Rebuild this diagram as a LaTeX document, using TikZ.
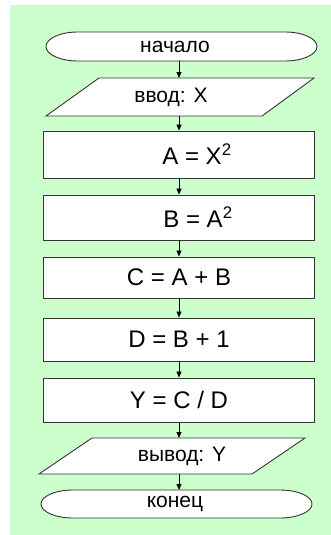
\documentclass[tikz,border=0pt]{standalone}
\usepackage{fontspec}
\setmainfont{Liberation Sans}
\usetikzlibrary{arrows.meta}

\definecolor{bggreen}{RGB}{204,255,204}

\begin{document}
\begin{tikzpicture}[x=1pt, y=-1pt,
    outline/.style={draw=black!80, line width=0.9pt, fill=white},
    opbox/.style={outline, minimum width=271pt, inner sep=0pt, font=\fontsize{24}{28}\selectfont},
    iotext/.style={inner sep=0pt, outer sep=0pt, minimum width=271pt, font=\fontsize{21}{25}\selectfont},
    flow/.style={-{Triangle[length=6pt,width=5pt]}, line width=0.8pt}]
    \useasboundingbox (0, 0) rectangle (331, 535);
    \fill[bggreen] (10, 5) rectangle (331, 535);

    % terminators and input/output
    \draw[outline] (78, 32) -- (285, 32) arc[start angle=-90, end angle=90, x radius=32, y radius=14.5]
      -- (78, 61) arc[start angle=90, end angle=270, x radius=32, y radius=14.5] -- cycle;
    \draw[outline] (46, 116) -- (99, 78) -- (314, 78) -- (262, 116) -- cycle;
    \draw[outline] (39, 474) -- (92, 438) -- (305, 438) -- (252, 474) -- cycle;
    \draw[outline] (73, 490) -- (280, 490) arc[start angle=-90, end angle=90, x radius=32, y radius=14]
      -- (73, 518) arc[start angle=90, end angle=270, x radius=32, y radius=14] -- cycle;

    \node[iotext, minimum height=29pt] (start) at (179, 46.5) {\hspace*{-8pt}начало};
    \node[iotext, minimum height=38pt] (input) at (179, 97) {\hspace*{-16pt}ввод: X};
    \node[opbox, minimum height=47pt] (stepa) at (179, 154.5) {\hspace*{36pt}A = X\textsuperscript{2}};
    \node[opbox, minimum height=45pt] (stepb) at (179, 217.5) {\hspace*{38pt}B = A\textsuperscript{2}};
    \node[opbox, minimum height=41pt] (stepc) at (179, 277.5) {C = A + B};
    \node[opbox, minimum height=43pt] (stepd) at (179, 339.5) {D = B + 1};
    \node[opbox, minimum height=44pt] (stepy) at (179, 400) {Y = C / D};
    \node[iotext, minimum height=36pt] (output) at (179, 456) {\hspace*{6pt}вывод: Y};
    \node[iotext, minimum height=28pt] (stop) at (179, 504) {\hspace*{-8pt}конец};

    \draw[flow] (start.south) -- (input.north);
    \draw[flow] (input.south) -- (stepa.north);
    \draw[flow] (stepa.south) -- (stepb.north);
    \draw[flow] (stepb.south) -- (stepc.north);
    \draw[flow] (stepc.south) -- (stepd.north);
    \draw[flow] (stepd.south) -- (stepy.north);
    \draw[flow] (stepy.south) -- (output.north);
    \draw[flow] (output.south) -- (stop.north);
\end{tikzpicture}
\end{document}
